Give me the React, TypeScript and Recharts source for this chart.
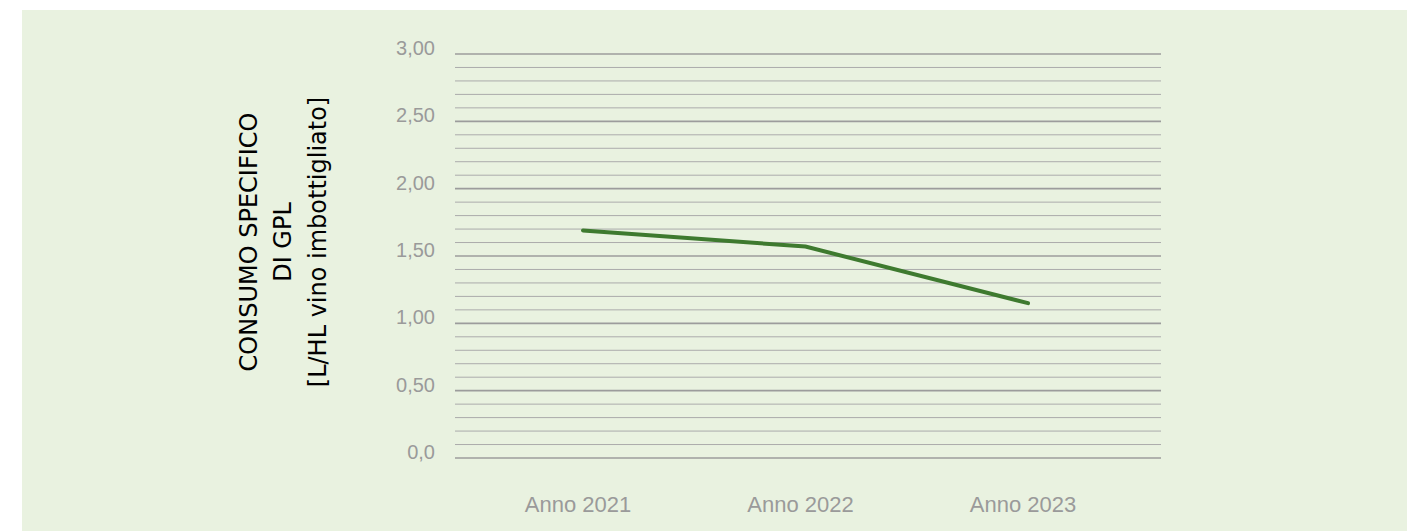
import React from "react";
import { LineChart, Line, XAxis, YAxis, CartesianGrid, ReferenceLine } from "recharts";

const anni = ["Anno 2021", "Anno 2022", "Anno 2023"];
const consumoGpl = [1.69, 1.57, 1.15];
const yTicks = [0, 0.5, 1, 1.5, 2, 2.5, 3];
const minorTicks = [
  0.1, 0.2, 0.3, 0.4, 0.6, 0.7, 0.8, 0.9, 1.1, 1.2, 1.3, 1.4, 1.6, 1.7, 1.8, 1.9,
  2.1, 2.2, 2.3, 2.4, 2.6, 2.7, 2.8, 2.9,
];
const titleLines = ["CONSUMO SPECIFICO", "DI GPL", "[L/HL vino imbottigliato]"];

const data = anni.map((anno, i) => ({ anno, valore: consumoGpl[i] }));

const FONT = "'Liberation Sans', Arial, Helvetica, sans-serif";

const fmt = (v: number) => (v === 0 ? "0,0" : v.toFixed(2).replace(".", ","));

function YTitle() {
  const cx = 261;
  const cy = 232;
  return (
    <text
      transform={`rotate(-90, ${cx}, ${cy})`}
      textAnchor="middle"
      dominantBaseline="central"
      fontFamily="'DejaVu Sans', sans-serif"
      fontSize={24}
      fill="#000"
    >
      {titleLines.map((t, i) => (
        <tspan key={t} x={cx} y={cy + (i - 1) * 34.5}>
          {t}
        </tspan>
      ))}
    </text>
  );
}

export default function App() {
  return (
    <div style={{ position: "absolute", left: 22, top: 10, width: 1385, height: 521, background: "#e9f2e0" }}>
      <LineChart width={1385} height={521} data={data} margin={{ top: 44, right: 246, bottom: 13, left: 0 }}>
        {minorTicks.map((v) => (
          <ReferenceLine key={v} y={v} stroke="#ababab" strokeWidth={1} />
        ))}
        <CartesianGrid vertical={false} stroke="#9c9c9c" strokeWidth={1.6} />
        <XAxis
          dataKey="anno"
          type="category"
          padding={{ left: 128, right: 133 }}
          axisLine={false}
          tickLine={false}
          tickSize={6}
          tickMargin={32}
          height={60}
          tick={{ fill: "#9a9a9a", fontSize: 22, fontFamily: FONT, dx: -5 }}
        />
        <YAxis
          domain={[0, 3]}
          ticks={yTicks}
          width={433}
          axisLine={false}
          tickLine={false}
          tickSize={6}
          tickMargin={14}
          tickFormatter={fmt}
          tick={{ fill: "#9a9a9a", fontSize: 20, fontFamily: FONT, dy: -6 }}
          label={<YTitle />}
        />
        <Line
          dataKey="valore"
          type="linear"
          stroke="#3e7a2f"
          strokeWidth={4}
          strokeLinecap="round"
          dot={false}
          activeDot={false}
          isAnimationActive={false}
        />
      </LineChart>
    </div>
  );
}
